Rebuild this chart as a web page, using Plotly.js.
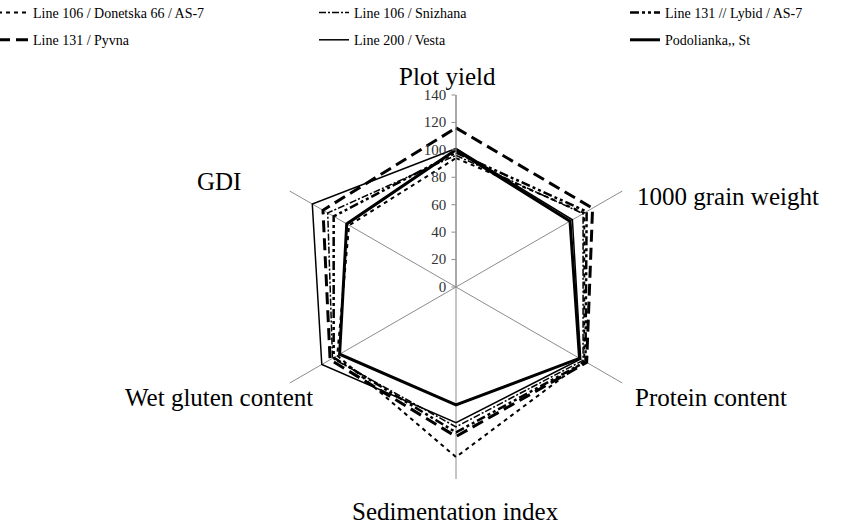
<!DOCTYPE html>
<html>
<head>
<meta charset="utf-8">
<script src="https://cdn.plot.ly/plotly-3.0.1.min.js"></script>
<style>html,body{margin:0;padding:0;background:#fff;}#chart{width:863px;height:526px;}</style>
</head>
<body>
<div id="chart"></div>
<script>
// Categories (axes of the radar)
const categories = ["Plot yield", "1000 grain weight", "Protein content", "Sedimentation index", "Wet gluten content", "GDI"];

// Series names
const seriesNames = ["Line 106 / Donetska 66 / AS-7", "Line 106 / Snizhana", "Line 131 // Lybid / AS-7",
                     "Line 131 / Pyvna", "Line 200 / Vesta", "Podolianka,, St"];

// Series values (order follows categories)
const donetska   = [94, 108, 108, 124, 100, 90];
const snizhana   = [96, 107, 107, 102, 104, 108];
const lybid      = [98, 110, 109, 106, 103, 103];
const pyvna      = [116, 115, 110, 109, 106, 112];
const vesta      = [101, 98, 105, 99, 113, 121];
const podolianka = [100, 96, 104, 86, 98, 92];

// Radial tick values
const radialTicks = [0, 20, 40, 60, 80, 100, 120, 140];

const seriesValues = [donetska, snizhana, lybid, pyvna, vesta, podolianka];
const styles = [
  {width: 2,   dash: "4px,4px"},
  {width: 1.5, dash: "7px,2px,2px,2px"},
  {width: 2.5, dash: "9px,3px,3px,3px,3px,3px"},
  {width: 3,   dash: "12px,6px"},
  {width: 1.5, dash: "solid"},
  {width: 3,   dash: "solid"}
];
// legend column of each series (3 columns x 2 rows)
const legendIds = ["legend", "legend2", "legend3", "legend", "legend2", "legend3"];

const close = a => a.concat([a[0]]);
const traces = seriesValues.map((vals, i) => ({
  type: "scatterpolar",
  mode: "lines",
  r: close(vals),
  theta: close(categories),
  name: seriesNames[i],
  legend: legendIds[i],
  legendgroup: "g" + i,
  line: {color: "#000", width: styles[i].width, dash: styles[i].dash},
  hoverinfo: "skip"
}));

const serif = "Liberation Serif";

// Category label annotations (paper coordinates)
const labelPos = [
  {x: 447/863, y: 1 - 77/526, xanchor: "center", yanchor: "middle"},
  {x: 636/863, y: 1 - 196/526, xanchor: "left", yanchor: "middle"},
  {x: 634/863, y: 1 - 397/526, xanchor: "left", yanchor: "middle"},
  {x: 456/863, y: 0, xanchor: "center", yanchor: "bottom"},
  {x: 314/863, y: 1 - 397/526, xanchor: "right", yanchor: "middle"},
  {x: 242/863, y: 1 - 182/526, xanchor: "right", yanchor: "middle"}
];
const annotations = categories.map((c, i) => ({
  text: c, xref: "paper", yref: "paper",
  x: labelPos[i].x, y: labelPos[i].y,
  xanchor: labelPos[i].xanchor, yanchor: labelPos[i].yanchor,
  showarrow: false, borderpad: 0,
  font: {family: serif, size: 25, color: "#000"}
}));

const legendCommon = {
  orientation: "v",
  xanchor: "left",
  y: 1 + 3/526, yanchor: "top",
  tracegroupgap: 6,
  font: {family: serif, size: 14, color: "#000"},
  bgcolor: "rgba(0,0,0,0)",
  itemwidth: 30,
  itemclick: false, itemdoubleclick: false
};

const layout = {
  width: 863, height: 526,
  margin: {l: 0, r: 0, t: 0, b: 0, autoexpand: false},
  paper_bgcolor: "#fff",
  showlegend: true,
  legend: Object.assign({}, legendCommon, {x: -7/863}),
  legend2: Object.assign({}, legendCommon, {x: 314/863}),
  legend3: Object.assign({}, legendCommon, {x: 625/863}),
  annotations: annotations,
  polar: {
    domain: {x: [264/863, 648/863], y: [(239-192)/526, (239+192)/526]},
    bgcolor: "rgba(0,0,0,0)",
    angularaxis: {
      type: "category",
      categoryarray: categories,
      rotation: 90,
      direction: "clockwise",
      showline: false,
      showgrid: true,
      gridcolor: "#8c8c8c",
      gridwidth: 1,
      showticklabels: false,
      ticks: ""
    },
    radialaxis: {
      range: [0, 140],
      angle: 90,
      tickangle: 90,
      side: "counterclockwise",
      tickvals: radialTicks,
      ticktext: radialTicks.map(String),
      showgrid: false,
      showline: true,
      linecolor: "#8c8c8c",
      linewidth: 1,
      ticks: "outside",
      ticklen: 4,
      tickcolor: "#8c8c8c",
      tickfont: {family: serif, size: 15, color: "#333"}
    }
  }
};

Plotly.newPlot("chart", traces, layout, {displayModeBar: false, staticPlot: true});
</script>
</body>
</html>
